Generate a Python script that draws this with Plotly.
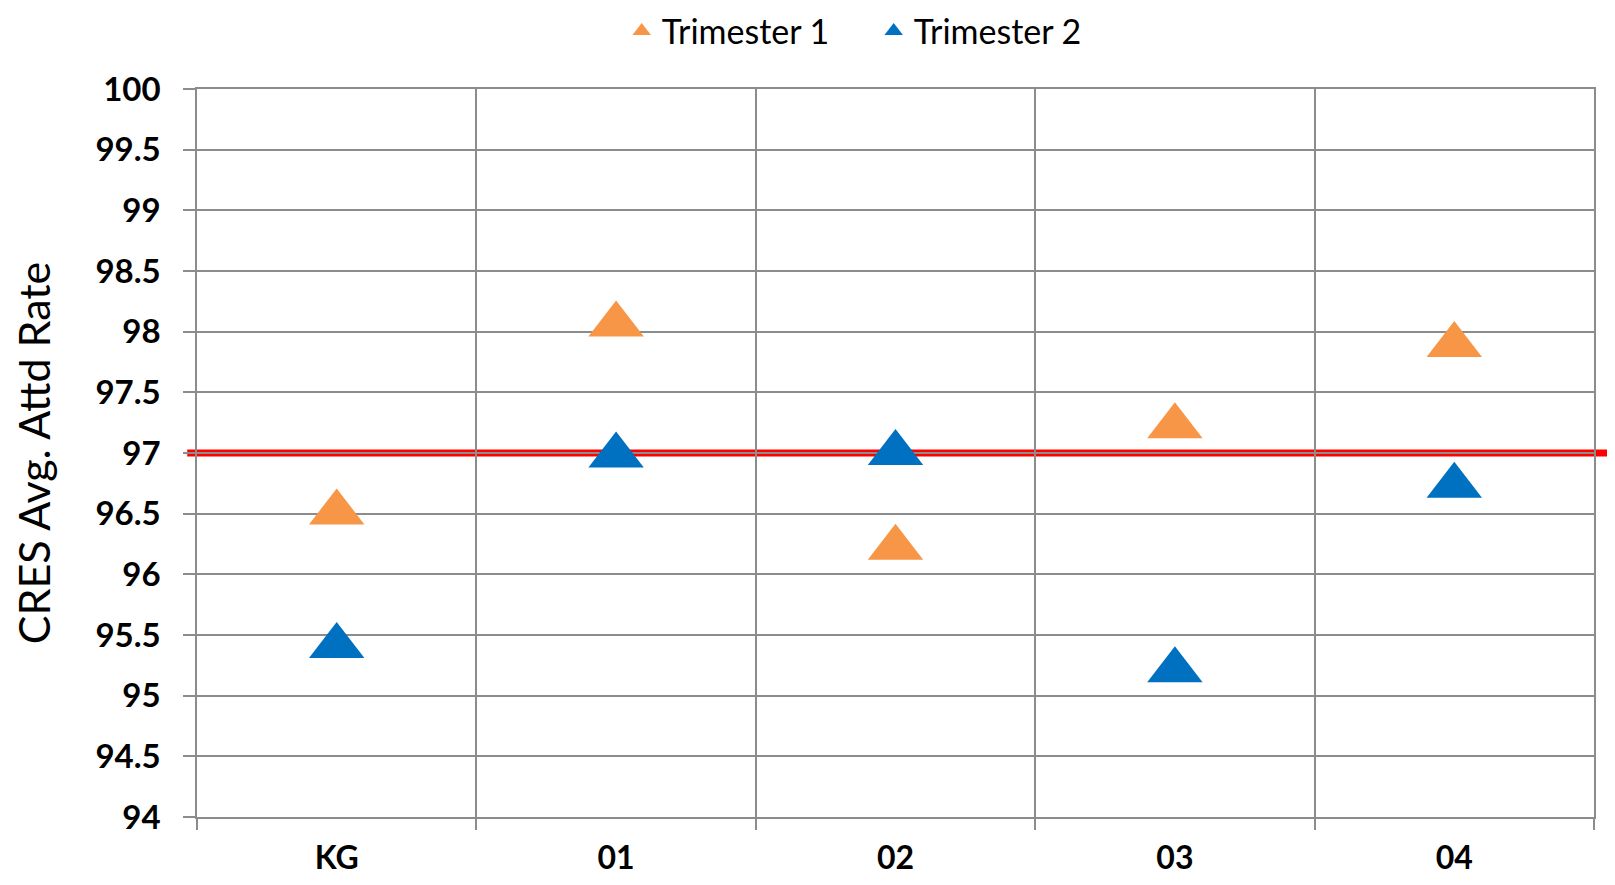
import plotly.graph_objects as go

grades = ["KG", "01", "02", "03", "04"]
trimester1 = [96.51, 98.06, 96.22, 97.22, 97.89]
trimester2 = [95.41, 96.98, 97.00, 95.21, 96.73]
target_rate = 97
y_ticks = [94, 94.5, 95, 95.5, 96, 96.5, 97, 97.5, 98, 98.5, 99, 99.5, 100]

ORANGE = "#F79646"
BLUE = "#0070C0"
GRID = "#8c8c8c"
FONT = "Lato"

fig = go.Figure()
fig.add_trace(go.Scatter(
    x=grades, y=trimester1, mode="markers", name="Trimester 1",
    marker=dict(symbol="triangle-up", size=48, color=ORANGE, line=dict(width=0)),
))
fig.add_trace(go.Scatter(
    x=grades, y=trimester2, mode="markers", name="Trimester 2",
    marker=dict(symbol="triangle-up", size=48, color=BLUE, line=dict(width=0)),
))

fig.add_shape(type="line", xref="paper", yref="y", x0=-0.007, x1=1.012,
              y0=target_rate, y1=target_rate, layer="between",
              line=dict(color="#FF0000", width=7))

fig.update_layout(
    width=1599, height=869,
    margin=dict(l=189, r=13, t=81, b=60, autoexpand=False),
    paper_bgcolor="white", plot_bgcolor="white",
    font=dict(family=FONT, color="black"),
    showlegend=True,
    legend=dict(orientation="h", x=0.304, xanchor="left", y=1.079, yanchor="middle",
                font=dict(family=FONT, size=34, color="black"),
                itemsizing="trace", bgcolor="rgba(0,0,0,0)",
                entrywidth=207, entrywidthmode="pixels"),
    xaxis=dict(type="category", categoryorder="array", categoryarray=grades,
               range=[-0.5, 4.5], tickson="boundaries", showgrid=True,
               gridcolor=GRID, gridwidth=1.5, ticks="outside", ticklen=11,
               tickcolor=GRID, tickwidth=1.5, showline=True, linecolor=GRID,
               linewidth=1.5, mirror=True, zeroline=False,
               tickfont=dict(family=FONT, size=32, color="black", weight="bold"),
               ticklabelstandoff=12),
    yaxis=dict(range=[94, 100], tickvals=y_ticks,
               ticktext=[f"{v:g}" for v in y_ticks],
               showgrid=True, gridcolor=GRID, gridwidth=1.5, ticks="outside",
               ticklen=12, tickcolor=GRID, tickwidth=1.5, showline=True,
               linecolor=GRID, linewidth=1.5, mirror=True, zeroline=False,
               tickfont=dict(family=FONT, size=33, color="black", weight="bold"),
               ticklabelstandoff=16,
               title=dict(text="CRES Avg. Attd Rate", standoff=40,
                          font=dict(family=FONT, size=43, color="black"))),
)

fig.write_html("out.html")
